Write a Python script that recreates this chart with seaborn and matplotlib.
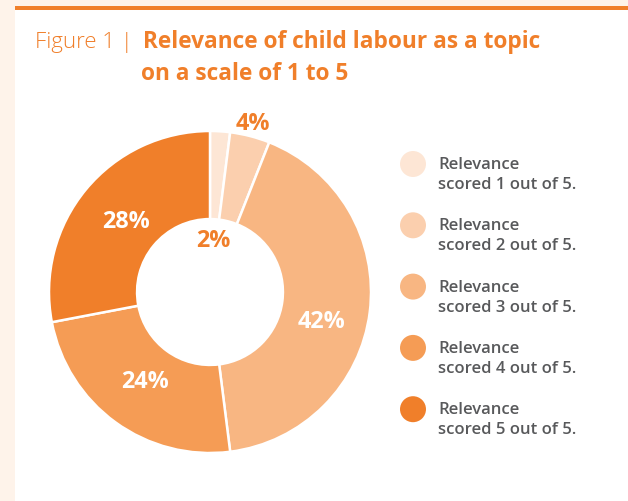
import matplotlib
matplotlib.use("Agg")
import numpy as np
import matplotlib.pyplot as plt
import seaborn as sns
from matplotlib.patches import Rectangle

# Survey data: share of respondents per relevance score
scores = [1, 2, 3, 4, 5]
shares = [2, 4, 42, 24, 28]
legend_labels = [f"Relevance\nscored {s} out of 5." for s in scores]
slice_colors = ["#FDE6D5", "#FBCFAE", "#F8B682", "#F59C55", "#F07F2A"]
title_prefix = "Figure 1 |"
title_lines = ["Relevance of child labour as a topic", "on a scale of 1 to 5"]

ORANGE = "#F07F2A"
CREAM = "#FEF3EA"
GREY = "#58595B"

sns.set_theme(style="white")
plt.rcParams["font.family"] = ["Open Sans", "DejaVu Sans"]

W, H = 628, 501
fig = plt.figure(figsize=(W / 100, H / 100), dpi=100)
fig.patch.set_facecolor("white")

# Full-figure layer in pixel units for the frame, title and legend
lay = fig.add_axes([0, 0, 1, 1], zorder=0)
lay.set_xlim(0, W)
lay.set_ylim(H, 0)
lay.axis("off")
lay.add_patch(Rectangle((0, 0), 15, H, color=CREAM, lw=0))
lay.add_patch(Rectangle((15, 0), W - 15, 5.6, color=CREAM, lw=0))
lay.add_patch(Rectangle((15, 5.6), W - 15, 4.0, color=ORANGE, lw=0))

# Title
lay.text(35, 48, title_prefix, fontsize=16, fontweight="light",
         color=ORANGE, va="baseline", ha="left")
lay.text(143, 48, title_lines[0], fontsize=16.3, fontweight="bold",
         color=ORANGE, va="baseline", ha="left")
lay.text(141, 80, title_lines[1], fontsize=16.3, fontweight="bold",
         color=ORANGE, va="baseline", ha="left")

# Donut
cx, cy, R = 210, 292, 161
ax = fig.add_axes([(cx - R) / W, (H - cy - R) / H, 2 * R / W, 2 * R / H], zorder=1)
wedges, _ = ax.pie(shares, colors=slice_colors, startangle=90, counterclock=False,
                   radius=1.0,
                   wedgeprops=dict(width=0.547, edgecolor="white", linewidth=1.8))
ax.set_xlim(-1, 1)
ax.set_ylim(-1, 1)
ax.set_aspect("equal")
ax.axis("off")

# Percentage labels placed along each wedge's mid angle
label_radius = [0.32, 1.075, 0.72, 0.69, 0.68]
label_shift = [0, 0, -8, 0, 0]
label_colors = [ORANGE, ORANGE, "white", "white", "white"]
for w, v, r, d, c in zip(wedges, shares, label_radius, label_shift, label_colors):
    ang = np.deg2rad((w.theta1 + w.theta2) / 2 + d)
    ax.text(r * np.cos(ang), r * np.sin(ang), f"{v}%", ha="center", va="center",
            fontsize=16.8, fontweight="bold", color=c, clip_on=False)

# Legend
leg_x, leg_y0, leg_dy = 413, 164, 61.3
for i, (lab, col) in enumerate(zip(legend_labels, slice_colors)):
    y = leg_y0 + i * leg_dy
    lay.scatter([leg_x], [y], s=350, color=col, edgecolors="none", zorder=2)
    first, second = lab.split("\n")
    lay.text(leg_x + 25, y + 5, first, fontsize=12, fontweight="semibold",
             color=GREY, va="baseline", ha="left")
    lay.text(leg_x + 25, y + 25, second, fontsize=12, fontweight="semibold",
             color=GREY, va="baseline", ha="left")

fig.savefig("out.png", dpi=100)
